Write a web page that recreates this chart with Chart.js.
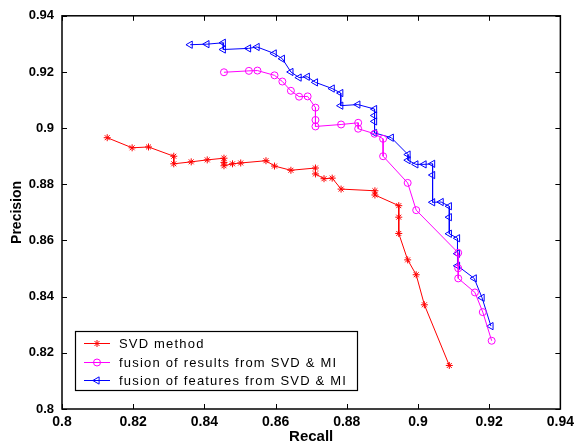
<!DOCTYPE html>
<html><head><meta charset="utf-8">
<script src="https://cdn.jsdelivr.net/npm/chart.js@4"></script>
<style>html,body{margin:0;padding:0;background:#fff}</style>
</head><body>
<canvas id="c" width="579" height="447"></canvas>
<script>
const seriesNames = ['SVD method', 'fusion of results from SVD & MI', 'fusion of features from SVD & MI'];

const svdRecall    = [0.8127,0.8197,0.8243,0.8314,0.8314,0.8363,0.8408,0.8455,0.8455,0.8455,0.8479,0.8502,0.8573,0.8597,0.8643,0.8712,0.8712,0.8736,0.8759,0.8784,0.8879,0.8879,0.8946,0.8946,0.8946,0.8971,0.8995,0.9018,0.9088];
const svdPrecision = [0.8966,0.8930,0.8933,0.8900,0.8873,0.8880,0.8887,0.8893,0.8878,0.8866,0.8873,0.8876,0.8884,0.8865,0.8850,0.8858,0.8837,0.8820,0.8822,0.8783,0.8777,0.8762,0.8724,0.8683,0.8625,0.8531,0.8478,0.8371,0.8155];

const resRecall    = [0.8455,0.8525,0.8549,0.8597,0.8619,0.8643,0.8666,0.8690,0.8712,0.8712,0.8712,0.8784,0.8832,0.8832,0.8878,0.8902,0.8902,0.8971,0.8995,0.9113,0.9113,0.9113,0.9160,0.9182,0.9207];
const resPrecision = [0.9199,0.9204,0.9205,0.9188,0.9166,0.9133,0.9112,0.9113,0.9073,0.9029,0.9006,0.9013,0.9019,0.8998,0.8980,0.8962,0.8900,0.8805,0.8708,0.8556,0.8501,0.8465,0.8415,0.8345,0.8243];

const featRecall    = [0.8360,0.8407,0.8453,0.8453,0.8524,0.8548,0.8596,0.8619,0.8643,0.8666,0.8689,0.8712,0.8759,0.8783,0.8783,0.8831,0.8878,0.8878,0.8878,0.8878,0.8925,0.8972,0.8972,0.8994,0.9017,0.9041,0.9041,0.9041,0.9065,0.9088,0.9088,0.9088,0.9111,0.9111,0.9111,0.9158,0.9180,0.9205];
const featPrecision = [0.9297,0.9299,0.9304,0.9280,0.9284,0.9289,0.9266,0.9247,0.9200,0.9180,0.9183,0.9163,0.9141,0.9125,0.9080,0.9084,0.9068,0.9045,0.9024,0.8983,0.8966,0.8906,0.8886,0.8871,0.8871,0.8873,0.8833,0.8736,0.8737,0.8722,0.8683,0.8624,0.8608,0.8553,0.8510,0.8465,0.8396,0.8295];

const xTickValues = [0.8,0.82,0.84,0.86,0.88,0.9,0.92,0.94];
const xTickLabels = ['0.8','0.82','0.84','0.86','0.88','0.9','0.92','0.94'];
const yTickValues = [0.8,0.82,0.84,0.86,0.88,0.9,0.92,0.94];
const yTickLabels = ['0.8','0.82','0.84','0.86','0.88','0.9','0.92','0.94'];

const FONT = '"Liberation Sans", Arial, Helvetica, sans-serif';
Chart.defaults.font.family = FONT;
Chart.defaults.color = '#000';

function pts(xs, ys){ return xs.map((v,i)=>({x:v, y:ys[i]})); }

const styles = [
  {color:'#ff0000', pointStyle:'star', radius:3.5, rotation:0},
  {color:'#ff00ff', pointStyle:'circle', radius:3.5, rotation:0},
  {color:'#0000ff', pointStyle:'triangle', radius:4.2, rotation:-90}
];
const seriesData = [pts(svdRecall, svdPrecision), pts(resRecall, resPrecision), pts(featRecall, featPrecision)];

const datasets = seriesNames.map((n,i)=>({
  label: n,
  data: seriesData[i],
  borderColor: styles[i].color,
  backgroundColor: 'rgba(0,0,0,0)',
  borderWidth: 1,
  pointStyle: styles[i].pointStyle,
  pointRadius: styles[i].radius,
  pointRotation: styles[i].rotation,
  pointBorderColor: styles[i].color,
  pointBackgroundColor: 'rgba(0,0,0,0)',
  pointBorderWidth: 1,
  showLine: true,
  tension: 0,
  fill: false
}));

function drawMarker(ctx, st, x, y){
  ctx.save();
  ctx.strokeStyle = st.color; ctx.fillStyle = 'rgba(0,0,0,0)'; ctx.lineWidth = 1;
  if (Chart.helpers && Chart.helpers.drawPoint) {
    Chart.helpers.drawPoint(ctx, {pointStyle: st.pointStyle, radius: st.radius, rotation: st.rotation, borderWidth: 1}, x, y);
  }
  ctx.restore();
}

const framePlugin = {
  id: 'frame',
  afterDatasetsDraw(chart){
    const {ctx, chartArea:a, scales:{x, y}} = chart;
    ctx.save();
    ctx.strokeStyle = '#000';
    ctx.lineWidth = 1;
    const L = 5;
    ctx.beginPath();
    x.ticks.forEach(t=>{
      const px = Math.round(x.getPixelForValue(t.value)) + 0.5;
      ctx.moveTo(px, a.bottom); ctx.lineTo(px, a.bottom - L);
      ctx.moveTo(px, a.top); ctx.lineTo(px, a.top + L);
    });
    y.ticks.forEach(t=>{
      const py = Math.round(y.getPixelForValue(t.value)) + 0.5;
      ctx.moveTo(a.left, py); ctx.lineTo(a.left + L, py);
      ctx.moveTo(a.right, py); ctx.lineTo(a.right - L, py);
    });
    ctx.stroke();
    ctx.lineWidth = 1.5;
    ctx.strokeRect(a.left, a.top, a.right - a.left, a.bottom - a.top);

    // legend
    const bx = 75, by = 331, bw = 282, bh = 59;
    ctx.fillStyle = '#fff';
    ctx.fillRect(bx, by, bw, bh);
    ctx.lineWidth = 1.2;
    ctx.strokeStyle = '#000';
    ctx.strokeRect(bx + 0.5, by + 0.5, bw, bh);
    const rows = [343.3, 361.5, 379.8];
    ctx.font = '13px ' + FONT;
    ctx.textBaseline = 'middle';
    ctx.textAlign = 'left';
    const labels = chart.data.datasets.map(d=>d.label);
    const longest = labels.reduce((m,s)=>s.length>m.length?s:m, '');
    const w0 = ctx.measureText(longest).width;
    const sp = Math.max(0, (228 - w0) / longest.length);
    ctx.letterSpacing = sp.toFixed(2) + 'px';
    chart.data.datasets.forEach((ds, i)=>{
      const yy = Math.round(rows[i]) + 0.5;
      ctx.strokeStyle = styles[i].color;
      ctx.lineWidth = 1;
      ctx.beginPath(); ctx.moveTo(84, yy); ctx.lineTo(110, yy); ctx.stroke();
      drawMarker(ctx, styles[i], 97, yy);
      ctx.fillStyle = '#000';
      ctx.fillText(ds.label, 119, yy + 0.5);
    });
    ctx.restore();
  }
};

new Chart(document.getElementById('c'), {
  type: 'scatter',
  data: { datasets },
  options: {
    responsive: false,
    devicePixelRatio: 1,
    animation: false,
    layout: { autoPadding: false, padding: { left: 0, top: 13, right: 16, bottom: 0 } },
    plugins: { legend: { display: false }, tooltip: { enabled: false } },
    scales: {
      x: {
        type: 'linear', min: 0.8, max: 0.94,
        afterBuildTicks: s => { s.ticks = xTickValues.map(v=>({value:v})); },
        afterFit: s => { s.height = 38; },
        ticks: { callback: (v, i) => xTickLabels[i], font: { size: 14, weight: 'bold' }, padding: 5, maxRotation: 0 },
        grid: { display: false, drawTicks: false },
        border: { display: false },
        title: { display: true, text: 'Recall', font: { size: 15, weight: 'bold' }, padding: { top: 0, bottom: 1 } }
      },
      y: {
        type: 'linear', min: 0.8, max: 0.94,
        afterBuildTicks: s => { s.ticks = yTickValues.map(v=>({value:v})); },
        afterFit: s => { s.width = 62; },
        ticks: { callback: (v, i) => yTickLabels[i], font: { size: 13, weight: 'bold' }, padding: 8 },
        grid: { display: false, drawTicks: false },
        border: { display: false },
        title: { display: true, text: 'Precision', font: { size: 14, weight: 'bold' }, padding: { top: 9, bottom: 0 } }
      }
    }
  },
  plugins: [framePlugin]
});
</script>
</body></html>
